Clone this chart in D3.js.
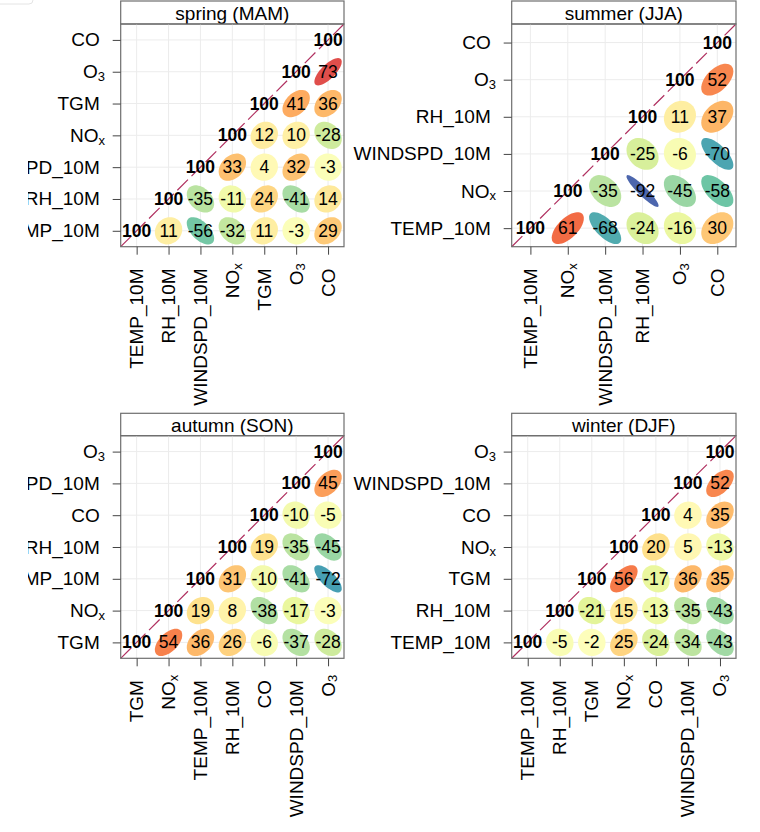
<!DOCTYPE html>
<html>
<head>
  <meta charset="utf-8"/>
  <title>Correlation by season</title>
  <style>
    body { margin: 0; background: #fff; }
    svg text { font-family: "Liberation Sans", Arial, Helvetica, sans-serif; fill: #000; }
  </style>
</head>
<body>
<div id="graph"></div>
<script src="https://cdn.jsdelivr.net/npm/d3@7"></script>
<script>
// variable order: left->right on x, bottom->top on y
// correlation rows (x100): row i holds cor(var i, var j) for j >= i
var springVars = ["TEMP_10M", "RH_10M", "WINDSPD_10M", "NOx", "TGM", "O3", "CO"];
var springCor = [
  [100, 11, -56, -32, 11, -3, 29],
  [100, -35, -11, 24, -41, 14],
  [100, 33, 4, 32, -3],
  [100, 12, 10, -28],
  [100, 41, 36],
  [100, 73],
  [100]
];

var summerVars = ["TEMP_10M", "NOx", "WINDSPD_10M", "RH_10M", "O3", "CO"];
var summerCor = [
  [100, 61, -68, -24, -16, 30],
  [100, -35, -92, -45, -58],
  [100, -25, -6, -70],
  [100, 11, 37],
  [100, 52],
  [100]
];

var autumnVars = ["TGM", "NOx", "TEMP_10M", "RH_10M", "CO", "WINDSPD_10M", "O3"];
var autumnCor = [
  [100, 54, 36, 26, -6, -37, -28],
  [100, 19, 8, -38, -17, -3],
  [100, 31, -10, -41, -72],
  [100, 19, -35, -45],
  [100, -10, -5],
  [100, 45],
  [100]
];

var winterVars = ["TEMP_10M", "RH_10M", "TGM", "NOx", "CO", "WINDSPD_10M", "O3"];
var winterCor = [
  [100, -5, -2, 25, -24, -34, -43],
  [100, -21, 15, -13, -35, -43],
  [100, 56, -17, 36, 35],
  [100, 20, 5, -13],
  [100, 4, 35],
  [100, 52],
  [100]
];

var seasonTitles = ["spring (MAM)", "summer (JJA)", "autumn (SON)", "winter (DJF)"];

// Spectral, reversed: -1 -> purple/blue, +1 -> dark red
var spectral = ["#5E4FA2", "#3288BD", "#66C2A5", "#ABDDA4", "#E6F598", "#FFFFBF",
                "#FEE08B", "#FDAE61", "#F46D43", "#D53E4F", "#9E0142"];

var W = 760, H = 832;
var svg = d3.select("#graph").append("svg")
    .attr("width", W).attr("height", H);

// the left edge of the picture is covered, labels get cut there
svg.append("defs").append("clipPath").attr("id", "leftcut")
  .append("rect").attr("x", 28).attr("y", 0).attr("width", W).attr("height", H);

svg.append("rect")
    .attr("x", -10).attr("y", -10).attr("width", 43).attr("height", 14).attr("rx", 4)
    .attr("fill", "#fff").attr("stroke", "#e4e4e4");

var colour = d3.scaleLinear()
    .domain(d3.range(11).map(function(i) { return -1 + i * 0.2; }))
    .range(spectral)
    .interpolate(d3.interpolateRgb);

// panel boxes (pixels)
var cols = [{left: 120.7, right: 344}, {left: 511.7, right: 736}];
var rows = [{stripTop: 1, top: 24, bottom: 246.7}, {stripTop: 413.3, top: 435.7, bottom: 658.3}];

var panels = [
  {title: seasonTitles[0], vars: springVars, cor: springCor, c: cols[0], r: rows[0]},
  {title: seasonTitles[1], vars: summerVars, cor: summerCor, c: cols[1], r: rows[0]},
  {title: seasonTitles[2], vars: autumnVars, cor: autumnCor, c: cols[0], r: rows[1]},
  {title: seasonTitles[3], vars: winterVars, cor: winterCor, c: cols[1], r: rows[1]}
];

// ellipse as in the R 'ellipse' package, level 0.9, scale 0.2
var tEll = Math.sqrt(-2 * Math.log(0.1)) * 0.2;

function writeLabel(t, name) {
  var m = name.match(/^(NO)(x)$|^(O)(3)$/);
  if (m) {
    t.text(m[1] || m[3]);
    t.append("tspan").attr("font-size", "13px").attr("dy", "0.32em").text(m[2] || m[4]);
  } else {
    t.text(name + "\u00A0");
  }
}

panels.forEach(function(p) {
  var n = p.vars.length;
  var x = d3.scaleLinear().domain([0.5, n + 0.5]).range([p.c.left, p.c.right]);
  var y = d3.scaleLinear().domain([0.5, n + 0.5]).range([p.r.bottom, p.r.top]);
  var g = svg.append("g");

  // strip
  g.append("rect")
      .attr("x", p.c.left).attr("y", p.r.stripTop)
      .attr("width", p.c.right - p.c.left).attr("height", p.r.top - p.r.stripTop)
      .attr("fill", "#fff").attr("stroke", "#6e6e6e").attr("stroke-width", 1.2);
  g.append("text")
      .attr("x", (p.c.left + p.c.right) / 2)
      .attr("y", (p.r.stripTop + p.r.top) / 2 + 1)
      .attr("text-anchor", "middle").attr("dominant-baseline", "central")
      .attr("font-size", "19px")
      .text(p.title);

  // grid
  var idx = d3.range(1, n + 1);
  g.selectAll(".gx").data(idx).enter().append("line")
      .attr("x1", function(d) { return x(d); }).attr("x2", function(d) { return x(d); })
      .attr("y1", p.r.top).attr("y2", p.r.bottom)
      .attr("stroke", "#ececec");
  g.selectAll(".gy").data(idx).enter().append("line")
      .attr("y1", function(d) { return y(d); }).attr("y2", function(d) { return y(d); })
      .attr("x1", p.c.left).attr("x2", p.c.right)
      .attr("stroke", "#ececec");

  // cells
  var cells = [];
  p.cor.forEach(function(row, i) {
    row.forEach(function(v, k) {
      cells.push({i: i, j: i + k, v: v});
    });
  });

  var line = d3.line().curve(d3.curveLinearClosed);
  g.selectAll(".ell").data(cells.filter(function(d) { return d.i !== d.j; }))
    .enter().append("path")
      .attr("d", function(d) {
        var r = d.v / 100, dd = Math.acos(r);
        var pts = d3.range(50).map(function(k) {
          var a = k / 50 * 2 * Math.PI;
          return [x(d.j + 1 + tEll * Math.cos(a + dd / 2)),
                  y(d.i + 1 + tEll * Math.cos(a - dd / 2))];
        });
        return line(pts);
      })
      .attr("fill", function(d) { return colour(d.v / 100); })
      .attr("stroke", "none");

  // diagonal
  g.append("line")
      .attr("x1", x(0.5)).attr("y1", y(0.5))
      .attr("x2", x(n + 0.5)).attr("y2", y(n + 0.5))
      .attr("stroke", "#B03060").attr("stroke-width", 1.2)
      .attr("stroke-dasharray", "15,5");

  g.selectAll(".num").data(cells).enter().append("text")
      .attr("x", function(d) { return x(d.j + 1); })
      .attr("y", function(d) { return y(d.i + 1); })
      .attr("text-anchor", "middle").attr("dominant-baseline", "central")
      .attr("font-size", "17.5px")
      .attr("font-weight", function(d) { return d.i === d.j ? "bold" : "normal"; })
      .text(function(d) { return d.v; });

  // frame
  g.append("rect")
      .attr("x", p.c.left).attr("y", p.r.top)
      .attr("width", p.c.right - p.c.left).attr("height", p.r.bottom - p.r.top)
      .attr("fill", "none").attr("stroke", "#6e6e6e").attr("stroke-width", 1.2);

  // axes ticks
  var ax = g.append("g").attr("transform", "translate(0," + p.r.bottom + ")")
      .call(d3.axisBottom(x).tickValues(idx).tickSize(8).tickFormat(""));
  var ay = g.append("g").attr("transform", "translate(" + p.c.left + ",0)")
      .call(d3.axisLeft(y).tickValues(idx).tickSize(8).tickFormat(""));
  [ax, ay].forEach(function(a) {
    a.select(".domain").remove();
    a.selectAll(".tick line").attr("stroke", "#444");
  });

  // labels
  g.append("g").attr("clip-path", "url(#leftcut)")
    .selectAll(".yl").data(p.vars).enter().append("text")
      .attr("x", p.c.left - 15.7)
      .attr("y", function(d, i) { return y(i + 1); })
      .attr("text-anchor", "end").attr("dominant-baseline", "central")
      .attr("font-size", "19px")
      .each(function(d) { writeLabel(d3.select(this), d); });
  g.selectAll(".xl").data(p.vars).enter().append("text")
      .attr("transform", function(d, i) {
        return "translate(" + x(i + 1) + "," + (p.r.bottom + 16.5) + ") rotate(-90)";
      })
      .attr("text-anchor", "end").attr("dominant-baseline", "central")
      .attr("font-size", "19px")
      .each(function(d) { writeLabel(d3.select(this), d); });
});
</script>
</body>
</html>
